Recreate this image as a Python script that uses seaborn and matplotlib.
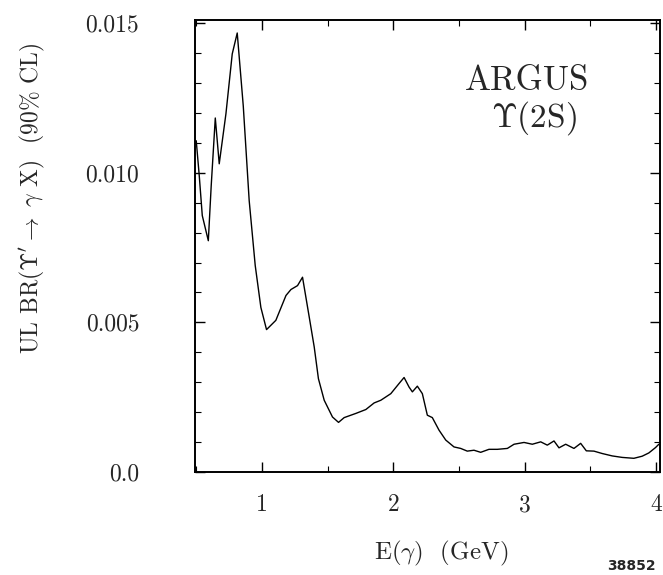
import seaborn as sns
import matplotlib.pyplot as plt
import pandas as pd

# Photon energy (GeV) and 90% CL upper limit on BR
energy = [0.500, 0.523, 0.546, 0.592, 0.614, 0.645, 0.675, 0.726, 0.774, 0.812,
          0.858, 0.903, 0.949, 0.992, 1.035, 1.106, 1.183, 1.221, 1.271, 1.309,
          1.360, 1.398, 1.430, 1.474, 1.537, 1.583, 1.626, 1.715, 1.791, 1.854,
          1.905, 1.981, 2.044, 2.082, 2.120, 2.145, 2.183, 2.221, 2.259, 2.297,
          2.348, 2.399, 2.462, 2.513, 2.563, 2.614, 2.665, 2.728, 2.792, 2.868,
          2.919, 2.995, 3.058, 3.122, 3.172, 3.223, 3.261, 3.312, 3.375, 3.426,
          3.469, 3.527, 3.590, 3.666, 3.742, 3.831, 3.894, 3.945, 3.996, 4.021]
upper_limit = [0.01107, 0.00990, 0.00857, 0.00773, 0.00957, 0.01183, 0.01030, 0.01197, 0.01397, 0.01467,
               0.01223, 0.00907, 0.00690, 0.00550, 0.00476, 0.00507, 0.00590, 0.00610, 0.00623, 0.00651,
               0.00518, 0.00418, 0.00312, 0.00240, 0.00184, 0.00166, 0.00182, 0.00196, 0.00209, 0.00231,
               0.00240, 0.00262, 0.00296, 0.00316, 0.00284, 0.00268, 0.00287, 0.00262, 0.00190, 0.00182,
               0.00140, 0.00107, 0.00084, 0.00079, 0.00070, 0.00073, 0.00066, 0.00076, 0.00076, 0.00079,
               0.00093, 0.00099, 0.00093, 0.00101, 0.00090, 0.00104, 0.00081, 0.00093, 0.00079, 0.00096,
               0.00071, 0.00070, 0.00062, 0.00054, 0.00049, 0.00046, 0.00053, 0.00064, 0.00082, 0.00093]

x_ticks = [1, 2, 3, 4]
x_tick_labels = ["1", "2", "3", "4"]
y_ticks = [0.0, 0.005, 0.010, 0.015]
y_tick_labels = ["0.0", "0.005", "0.010", "0.015"]

df = pd.DataFrame({"E": energy, "UL": upper_limit})

sns.set_style("ticks")
plt.rcParams["font.family"] = ["cmr10", "DejaVu Serif"]
plt.rcParams["mathtext.fontset"] = "cm"
plt.rcParams["axes.formatter.use_mathtext"] = True

fig = plt.figure(figsize=(6.63, 5.75), dpi=100)
ax = fig.add_axes([0.294, 0.179, 0.7015, 0.786])

sns.lineplot(data=df, x="E", y="UL", color="black", linewidth=1.0, ax=ax)

ax.set_xlim(0.49, 4.03)
ax.set_ylim(0.0, 0.0151)
ax.set_xticks(x_ticks)
ax.set_xticklabels(x_tick_labels)
ax.set_yticks(y_ticks)
ax.set_yticklabels(y_tick_labels)
ax.set_xticks([0.5, 1.5, 2.5, 3.5], minor=True)
ax.set_yticks([0.001, 0.002, 0.003, 0.004, 0.006, 0.007, 0.008, 0.009,
               0.011, 0.012, 0.013, 0.014], minor=True)

ax.tick_params(which="both", direction="in", top=True, right=True, color="black")
ax.tick_params(which="major", length=7, width=1.0)
ax.tick_params(which="minor", length=4, width=0.8)
ax.tick_params(axis="x", which="major", labelsize=17, pad=16)
ax.tick_params(axis="y", which="major", labelsize=17, pad=40)

for s in ax.spines.values():
    s.set_color("black")
    s.set_linewidth(1.4)

ax.set_xlabel(r"E($\gamma$)  (GeV)", fontsize=18)
ax.set_ylabel(r"UL BR($\Upsilon^{\prime}\rightarrow\ \gamma$ X)  (90% CL)", fontsize=17)
ax.xaxis.set_label_coords(0.529, -0.147)
ax.yaxis.set_label_coords(-0.318, 0.606)

ax.text(0.714, 0.845, "ARGUS", transform=ax.transAxes, fontsize=25, ha="center")
ax.text(0.728, 0.765, r"$\Upsilon$(2S)", transform=ax.transAxes, fontsize=24, ha="center")

fig.text(0.915, 0.004, "38852", fontsize=10, fontweight="bold",
         family="DejaVu Sans", ha="left", va="bottom")

plt.savefig("out.png", dpi=100)
